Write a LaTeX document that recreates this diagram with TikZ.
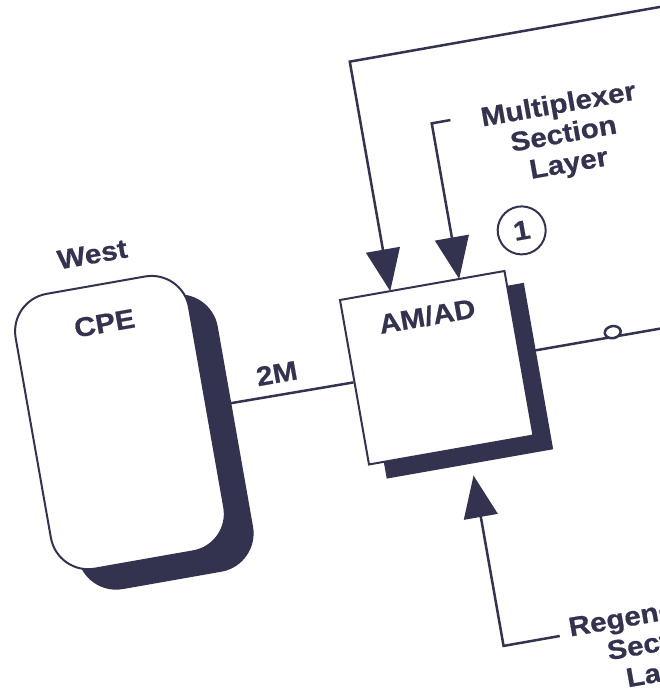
\documentclass[tikz,border=0pt]{standalone}
\usepackage{fontspec}
\usepackage{tikz}
\usetikzlibrary{arrows.meta}
\newfontfamily\labelfont{Liberation Sans}[FakeStretch=1.1, BoldFeatures={FakeBold=0.6}]
\definecolor{ink}{HTML}{333350}
\begin{document}
\begin{tikzpicture}[x=1pt,y=1pt,
    cpebox/.style={draw=ink, line width=2pt, fill=white, rounded corners=38pt,
      minimum width=176pt, minimum height=279pt, inner sep=0pt},
    unitbox/.style={draw=ink, line width=2pt, fill=white,
      minimum width=167pt, minimum height=167pt, inner sep=0pt},
    tag/.style={text=ink, inner sep=0pt, align=center,
      font=\labelfont\bfseries\fontsize{27}{30}\selectfont},
    ringtag/.style={tag, draw=ink, line width=2pt, circle, minimum size=48pt},
    wire/.style={draw=ink, line width=2.5pt},
    feed/.style={wire, -{Triangle[length=42pt,width=34pt]}}]
  \clip (0,0) rectangle (660,698);
  \begin{scope}[shift={(340,398)}, rotate=10, transform shape]
    % equipment
    \node[cpebox, fill=ink] (cpeshadow) at (-214,-106.5) {};
    \node[cpebox] (cpe) at (-238,-82.5) {};
    \node[unitbox, fill=ink] (amadshadow) at (99.5,-99.5) {};
    \node[unitbox] (amad) at (83.5,-83.5) {};
    \node[tag] (west) at (-236,88) {West};
    \node[tag] (cpetext) at (-236,18) {CPE};
    \node[tag] (amadtext) at (83,-31) {AM/AD};
    \node[ringtag] (one) at (191,37) {1};
    % links
    \coordinate (eastend) at (420,-84);
    \draw[wire] (cpe.east) -- node[tag, above=11pt] (rate) {2M} (amad.west);
    \draw[wire] (amad.east) -- (eastend);
    \draw[wire, fill=white] (263,-79) ellipse [x radius=8, y radius=6];
    % layers
    \node[tag] (msl) at (249,123) {Multiplexer\\Section\\Layer};
    \node[tag] (rsl) at (256,-395) {Regenerator\\Section\\Layer};
    \coordinate (loopend) at (420,233);
    \coordinate (loopturn) at (51,233);
    \coordinate (inloop) at (51,0);
    \coordinate (mslstub) at (140,158);
    \coordinate (mslturn) at (121,158);
    \coordinate (inmsl) at (121,0);
    \coordinate (rslstub) at (158,-369);
    \coordinate (rslturn) at (101,-369);
    \coordinate (inrsl) at (101,-196);
    \draw[feed] (loopend) -- (loopturn) -- (inloop);
    \draw[feed] (mslstub) -- (mslturn) -- (inmsl);
    \draw[feed] (rslstub) -- (rslturn) -- (inrsl);
  \end{scope}
\end{tikzpicture}
\end{document}
